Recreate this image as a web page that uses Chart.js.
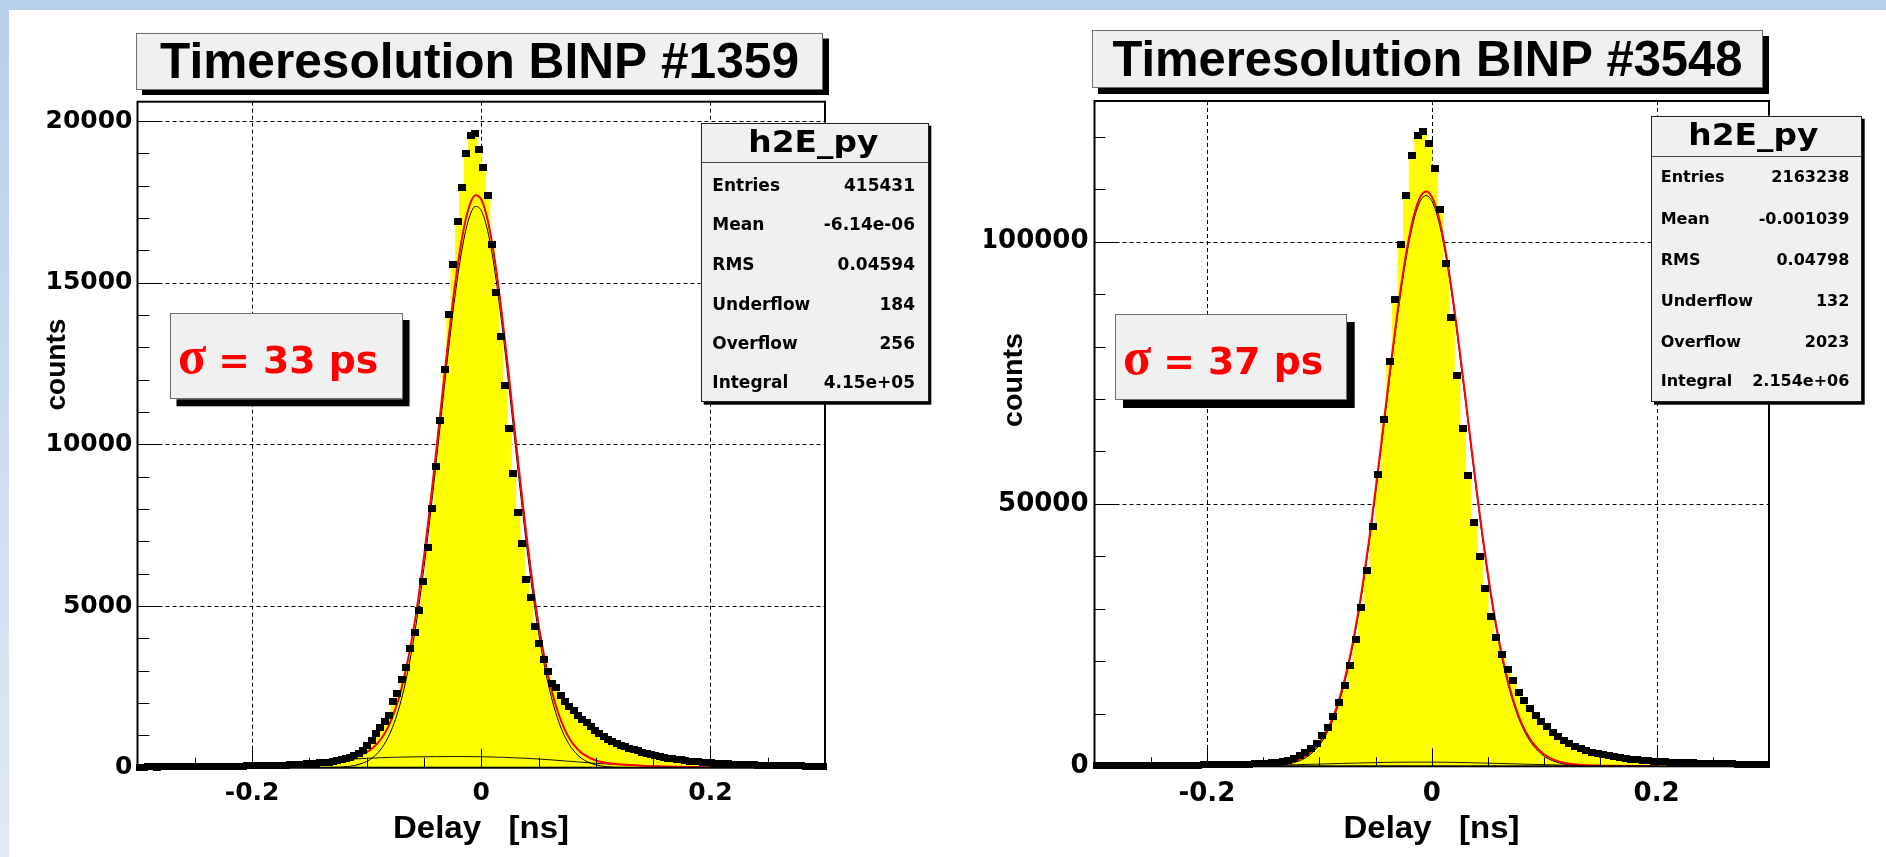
<!DOCTYPE html>
<html>
<head>
<meta charset="utf-8">
<script src="https://cdn.jsdelivr.net/npm/chart.js@4.4.1/dist/chart.umd.min.js"></script>
<style>
html,body{margin:0;padding:0;background:#ffffff;width:1886px;height:857px;overflow:hidden;}
#bandTop{position:absolute;left:0;top:0;width:1886px;height:10px;background:#b8cfea;}
#bandLeft{position:absolute;left:0;top:0;width:9px;height:857px;background:linear-gradient(to bottom,#b8cfea,#e1e9f4);}
canvas{position:absolute;left:0;top:0;}
</style>
</head>
<body>
<div id="bandTop"></div><div id="bandLeft"></div>
<canvas id="c1" width="1886" height="857"></canvas>
<canvas id="c2" width="1886" height="857"></canvas>
<script>
// ================= DATA =================
// Left histogram: BINP #1359, 160 bins over [-0.3, 0.3] ns
const leftRange = [-0.3, 0.3];
const leftBinWidth = 0.00375;
const leftCounts = [
  20,18,22,25,21,24,26,23,28,27,
  30,29,33,31,35,34,38,36,40,42,
  41,45,47,50,49,53,55,58,60,63,
  66,70,73,78,82,88,94,100,108,116,
  125,135,146,158,172,190,215,245,280,320,
  375,445,547,702,856,1051,1258,1422,1608,2053,
  2288,2743,3092,3692,4175,4867,5773,6803,8021,9329,
  10750,12307,14020,15566,16895,17934,18998,19564,19616,19131,
  18553,17687,16184,14700,13349,11834,10504,9103,7897,6927,
  5825,5268,4372,3856,3352,2990,2610,2474,2239,2041,
  1908,1763,1630,1497,1391,1289,1166,1064,959,880,
  820,760,700,650,600,560,520,480,445,410,
  380,350,325,300,280,260,240,222,206,192,
  180,168,158,148,140,132,124,117,111,105,
  100,95,90,86,82,78,75,72,69,66,
  63,61,58,56,54,52,50,48,47,45
];
const leftFitX = [-0.14,-0.13,-0.12,-0.11,-0.10,-0.095,-0.09,-0.085,-0.08,-0.075,-0.07,-0.065,-0.06,-0.055,-0.05,-0.045,-0.04,-0.035,-0.03,-0.025,-0.02,-0.015,-0.01,-0.005,0,0.005,0.01,0.015,0.02,0.025,0.03,0.035,0.04,0.045,0.05,0.055,0.06,0.065,0.07,0.075,0.08,0.085,0.09,0.1,0.11,0.12,0.13,0.14,0.16,0.18,0.2];
const leftFitTotal = [152,207,264,337,483,602,775,1017,1355,1807,2398,3154,4092,5215,6521,7985,9567,11208,12831,14349,15674,16717,17411,17703,17575,17031,16114,14888,13431,11833,10182,8563,7040,5657,4451,3431,2596,1930,1417,1029,744,539,395,224,145,105,80,61,38,22,12];
const leftFitCore = [2,8,24,72,193,305,470,705,1035,1483,2071,2823,3757,4878,6182,7645,9225,10865,12487,14005,15329,16373,17068,17361,17235,16696,15784,14563,13111,11521,9877,8265,6750,5378,4183,3175,2351,1699,1199,825,554,363,232,88,30,10,3,1,0,0,0];
const leftBgX = [-0.14,-0.12,-0.10,-0.08,-0.06,-0.04,-0.02,0,0.02,0.04,0.06,0.08,0.10,0.12,0.14,0.16,0.18,0.20];
const leftBgVals = [150,240,290,320,335,342,345,340,320,290,245,190,136,95,60,38,22,12];
const leftYTicks = [0,5000,10000,15000,20000];
const leftYTickLabels = ['0','5000','10000','15000','20000'];
const leftYMinor = [1000,2000,3000,4000,6000,7000,8000,9000,11000,12000,13000,14000,16000,17000,18000,19000];

// Right histogram: BINP #3548, 120 bins over [-0.3, 0.3] ns
const rightRange = [-0.3, 0.3];
const rightBinWidth = 0.005;
const rightCounts = [
  95,100,105,110,115,120,128,135,142,150,
  158,166,175,185,195,206,218,230,244,258,
  273,290,308,328,350,375,400,430,465,505,
  560,640,750,950,1200,1525,2020,2670,3430,4380,
  5780,7490,9530,12200,15310,19180,24210,30240,37230,45680,
  55530,66100,77128,88887,99371,108770,116470,120280,120970,118620,
  113990,106040,95810,85516,74460,64460,55400,46510,39960,33800,
  28590,24510,21220,18490,16390,14160,12500,11050,9590,8500,
  7550,6480,5640,4950,4350,3850,3400,3020,2700,2420,
  2180,1970,1790,1630,1490,1370,1260,1160,1075,1000,
  930,870,815,765,720,680,642,608,576,547,
  520,495,472,450,430,411,393,377,362,348
];
const rightFitX = [-0.16,-0.15,-0.14,-0.13,-0.12,-0.11,-0.10,-0.095,-0.09,-0.085,-0.08,-0.075,-0.07,-0.065,-0.06,-0.055,-0.05,-0.045,-0.04,-0.035,-0.03,-0.025,-0.02,-0.015,-0.01,-0.005,0,0.005,0.01,0.015,0.02,0.025,0.03,0.035,0.04,0.045,0.05,0.055,0.06,0.065,0.07,0.075,0.08,0.085,0.09,0.1,0.11,0.12,0.13,0.14,0.15,0.16,0.18,0.2];
const rightFitTotal = [155,225,354,624,1180,2308,4453,6101,8255,11024,14491,18740,23847,29835,36694,44330,52619,61365,70283,79064,87340,94775,100984,105662,108580,109568,108574,105650,100960,94750,87316,79029,70240,61320,52574,44280,36639,29780,23790,18681,14431,10963,8194,6041,4396,2251,1131,576,315,188,126,84,48,26];
const rightFitCore = [17,50,140,362,869,1940,4028,5646,7769,10508,13945,18165,23244,29205,36036,43650,51916,60640,69537,78304,86570,93990,100190,104865,107780,108770,107780,104865,100190,93990,86570,78304,69537,60640,51916,43650,36036,29205,23244,18165,13945,10508,7769,5646,4028,1940,869,362,140,50,17,5,1,0];
const rightBgX = [-0.16,-0.14,-0.12,-0.10,-0.08,-0.06,-0.04,-0.02,0,0.02,0.04,0.06,0.08,0.10,0.12,0.14,0.16,0.18,0.20];
const rightBgVals = [138,214,311,425,546,658,746,794,794,746,658,546,425,311,214,138,84,48,26];
const rightYTicks = [0,50000,100000];
const rightYTickLabels = ['0','50000','100000'];
const rightYMinor = [10000,20000,30000,40000,60000,70000,80000,90000,110000,120000];

// shared x ticks
const xTicks = [-0.2,0,0.2];
const xTickLabels = ['-0.2','0','0.2'];
const xMinor = [-0.25,-0.15,-0.1,-0.05,0.05,0.1,0.15,0.25];

// texts
const leftTitle = 'Timeresolution BINP #1359';
const rightTitle = 'Timeresolution BINP #3548';
const statsName = 'h2E_py';
const statLabels = ['Entries','Mean','RMS','Underflow','Overflow','Integral'];
const leftStatValues = ['415431','-6.14e-06','0.04594','184','256','4.15e+05'];
const rightStatValues = ['2163238','-0.001039','0.04798','132','2023','2.154e+06'];
const leftSigma = '33 ps';
const rightSigma = '37 ps';
const yTitle = 'counts';
const xTitle = 'Delay   [ns]';

// ================= DRAWING =================
function markerImg(w,h){const c=document.createElement('canvas');c.width=w;c.height=h;const g=c.getContext('2d');g.fillStyle='#000';g.fillRect(0,0,w,h);return c;}

function txt(ctx, s, x, y, font, opt){
  opt = opt || {};
  ctx.save();
  ctx.font = font;
  ctx.fillStyle = opt.color || '#000';
  ctx.textBaseline = 'alphabetic';
  ctx.textAlign = 'left';
  const w = ctx.measureText(s).width;
  const sx = opt.width ? opt.width / w : 1;
  const ww = w * sx;
  let x0 = x;
  if (opt.align === 'center') x0 = x - ww/2; else if (opt.align === 'right') x0 = x - ww;
  ctx.translate(x0, y);
  ctx.scale(sx, 1);
  ctx.fillText(s, 0, 0);
  ctx.restore();
  return ww;
}

function shadowBox(ctx, x, y, w, h, sh, fill, stroke){
  ctx.save();
  ctx.fillStyle = '#000';
  ctx.fillRect(x+sh, y+sh, w, h);
  ctx.fillStyle = fill;
  ctx.fillRect(x, y, w, h);
  ctx.strokeStyle = stroke; ctx.lineWidth = 1; ctx.setLineDash([]);
  ctx.strokeRect(Math.round(x)+0.5, Math.round(y)+0.5, Math.round(w)-1, Math.round(h)-1);
  ctx.restore();
}

function rootPlugin(P){
  return {
    id: 'rootstyle',
    beforeDatasetsDraw(chart){
      const {ctx, chartArea:a, scales:{x, y}} = chart;
      ctx.save();
      ctx.strokeStyle = '#000'; ctx.lineWidth = 1; ctx.setLineDash([4,3]);
      P.xTicks.forEach(v => { const px = Math.round(x.getPixelForValue(v)) + 0.5; ctx.beginPath(); ctx.moveTo(px, a.top); ctx.lineTo(px, a.bottom); ctx.stroke(); });
      P.yTicks.forEach(v => { if (v <= 0) return; const py = Math.round(y.getPixelForValue(v)) + 0.5; ctx.beginPath(); ctx.moveTo(a.left, py); ctx.lineTo(a.right, py); ctx.stroke(); });
      ctx.restore();
    },
    afterDatasetsDraw(chart){
      const {ctx, chartArea:a, scales:{x, y}} = chart;
      ctx.save();
      ctx.setLineDash([]);
      ctx.strokeStyle = '#000';
      ctx.lineWidth = 1;
      const tx = (v, len) => { const px = Math.round(x.getPixelForValue(v)) + 0.5; ctx.beginPath(); ctx.moveTo(px, a.bottom); ctx.lineTo(px, a.bottom - len); ctx.stroke(); };
      const ty = (v, len) => { const py = Math.round(y.getPixelForValue(v)) + 0.5; ctx.beginPath(); ctx.moveTo(a.left, py); ctx.lineTo(a.left + len, py); ctx.stroke(); };
      P.xTicks.forEach(v => tx(v, P.xMajLen));
      P.xMinor.forEach(v => tx(v, P.xMinLen));
      P.yTicks.forEach(v => ty(v, P.yMajLen));
      P.yMinor.forEach(v => ty(v, P.yMinLen));
      ctx.lineWidth = 2;
      ctx.strokeRect(a.left, a.top, a.right - a.left, a.bottom - a.top);
      ctx.restore();

      const T = P.titleBox;
      shadowBox(ctx, T.x, T.y, T.w, T.h, T.sh, '#f0f0f0', '#6e6e6e');
      txt(ctx, P.title, T.cx, T.base, 'bold 50px "Liberation Sans", Arial, sans-serif', {align:'center', width:T.tw});

      const S = P.stats;
      shadowBox(ctx, S.x, S.y, S.w, S.h, S.sh, '#f0f0f0', '#222');
      ctx.save(); ctx.strokeStyle = '#444'; ctx.lineWidth = 1;
      ctx.beginPath(); ctx.moveTo(S.x, Math.round(S.line)+0.5); ctx.lineTo(S.x + S.w, Math.round(S.line)+0.5); ctx.stroke(); ctx.restore();
      txt(ctx, statsName, S.hcx, S.hbase, 'bold 30px "DejaVu Sans", sans-serif', {align:'center', width:S.hw});
      statLabels.forEach((lab, i) => {
        txt(ctx, lab, S.lx, S.rows[i], S.font);
        txt(ctx, P.statValues[i], S.vx, S.rows[i], S.font, {align:'right'});
      });

      const G = P.sigma;
      shadowBox(ctx, G.x, G.y, G.w, G.h, G.sh, '#f0f0f0', '#6e6e6e');
      const ws = txt(ctx, '\u03c3', G.tx, G.base, 'bold 52px "Liberation Serif", "DejaVu Serif", serif', {color:'#ff0000'});
      txt(ctx, '= ' + P.sigmaText, G.tx + ws + G.gap, G.base, 'bold 38px "DejaVu Sans", sans-serif', {color:'#ff0000', width:G.restW});

      ctx.save();
      ctx.translate(P.yTitle.cx, P.yTitle.cy);
      ctx.rotate(-Math.PI/2);
      txt(ctx, yTitle, 0, 10, 'bold 28px "Liberation Sans", Arial, sans-serif', {align:'center', width:P.yTitle.w});
      ctx.restore();
      txt(ctx, xTitle, P.xTitle.cx, P.xTitle.base, 'bold 31px "Liberation Sans", Arial, sans-serif', {align:'center', width:P.xTitle.w});
    }
  };
}

function buildPanel(canvasId, P){
  const bins = P.counts.map((v, i) => ({x: P.range[0] + P.binWidth * (i + 0.5), y: v}));
  const pairs = (xs, ys) => xs.map((xv, i) => ({x: xv, y: ys[i]}));
  const YW = 110, XH = 60;
  const tickFont = {family: '"DejaVu Sans"', weight: 'bold', size: P.tickFont};
  return new Chart(document.getElementById(canvasId), {
    type: 'line',
    data: { datasets: [
      {data: bins, showLine: false, pointStyle: markerImg(P.mw, P.mh), pointRadius: 3, order: 0, clip: false},
      {data: pairs(P.fitX, P.fitTotal), borderColor: '#ff0000', borderWidth: 2, pointRadius: 0, cubicInterpolationMode: 'monotone', fill: false, order: 1},
      {data: pairs(P.fitX, P.fitCore), borderColor: '#000000', borderWidth: 1, pointRadius: 0, cubicInterpolationMode: 'monotone', fill: false, order: 2},
      {data: pairs(P.bgX, P.bgVals), borderColor: '#1a1a00', borderWidth: 1, pointRadius: 0, cubicInterpolationMode: 'monotone', fill: false, order: 3},
      {data: bins, stepped: 'middle', fill: 'origin', backgroundColor: '#ffff00', borderColor: '#ffff00', borderWidth: 1, pointRadius: 0, order: 4}
    ]},
    options: {
      responsive: false, animation: false, events: [],
      layout: {padding: {left: P.area.l - YW, top: P.area.t, right: 1886 - P.area.r, bottom: 857 - P.area.b - XH}},
      plugins: {legend: {display: false}, tooltip: {enabled: false}},
      scales: {
        x: {type: 'linear', min: P.range[0], max: P.range[1],
            grid: {display: false, drawTicks: false}, border: {display: false},
            afterBuildTicks: s => { s.ticks = P.xTicks.map(v => ({value: v})); },
            afterFit: s => { s.height = XH; },
            ticks: {autoSkip: false, maxRotation: 0, padding: P.xTickPad, color: '#000', font: tickFont,
                    callback: (v, i) => P.xTickLabels[i]}},
        y: {type: 'linear', min: 0, max: P.ymax,
            grid: {display: false, drawTicks: false}, border: {display: false},
            afterBuildTicks: s => { s.ticks = P.yTicks.map(v => ({value: v})); },
            afterFit: s => { s.width = YW; },
            ticks: {autoSkip: false, padding: P.yTickPad, color: '#000', font: tickFont,
                    callback: (v, i) => P.yTickLabels[i]}}
      }
    },
    plugins: [rootPlugin(P)]
  });
}

buildPanel('c1', {
  range: leftRange, binWidth: leftBinWidth, counts: leftCounts,
  fitX: leftFitX, fitTotal: leftFitTotal, fitCore: leftFitCore, bgX: leftBgX, bgVals: leftBgVals,
  ymax: 20600, yTicks: leftYTicks, yTickLabels: leftYTickLabels, yMinor: leftYMinor,
  xTicks: xTicks, xTickLabels: xTickLabels, xMinor: xMinor,
  area: {l: 137.5, r: 825, t: 101.7, b: 767.7},
  mw: 8, mh: 7, tickFont: 25, xTickPad: 11, yTickPad: 5,
  xMajLen: 19, xMinLen: 10, yMajLen: 24, yMinLen: 12,
  title: leftTitle,
  titleBox: {x: 136, y: 32.5, w: 687, h: 56.5, sh: 6, cx: 479.5, base: 78, tw: 639},
  stats: {x: 700.7, y: 122.7, w: 227.6, h: 279, sh: 3, line: 162.3, hcx: 813.3, hbase: 151.7, hw: 130,
          rows: [191, 230.3, 270.3, 310, 349.3, 388.3], lx: 712.3, vx: 915, font: 'bold 17px "DejaVu Sans", sans-serif'},
  statValues: leftStatValues,
  sigma: {x: 169.5, y: 313, w: 233, h: 86.3, sh: 7, tx: 178, base: 373, gap: 12, restW: 160},
  sigmaText: leftSigma,
  yTitle: {cx: 55, cy: 364.6, w: 92},
  xTitle: {cx: 481, base: 838, w: 176}
});

buildPanel('c2', {
  range: rightRange, binWidth: rightBinWidth, counts: rightCounts,
  fitX: rightFitX, fitTotal: rightFitTotal, fitCore: rightFitCore, bgX: rightBgX, bgVals: rightBgVals,
  ymax: 126800, yTicks: rightYTicks, yTickLabels: rightYTickLabels, yMinor: rightYMinor,
  xTicks: xTicks, xTickLabels: xTickLabels, xMinor: xMinor,
  area: {l: 1094.5, r: 1769, t: 101, b: 766.3},
  mw: 8, mh: 7, tickFont: 26, xTickPad: 12.5, yTickPad: 6,
  xMajLen: 18, xMinLen: 9, yMajLen: 23, yMinLen: 11,
  title: rightTitle,
  titleBox: {x: 1092, y: 30, w: 671, h: 58, sh: 6, cx: 1427.5, base: 76, tw: 630},
  stats: {x: 1651, y: 115.7, w: 210.7, h: 286, sh: 3, line: 156, hcx: 1753.3, hbase: 145, hw: 130,
          rows: [182.3, 224, 265, 305.7, 346.7, 386], lx: 1660.7, vx: 1849.3, font: 'bold 16px "DejaVu Sans", sans-serif'},
  statValues: rightStatValues,
  sigma: {x: 1115, y: 314, w: 231.7, h: 86, sh: 8, tx: 1123, base: 374, gap: 12, restW: 160},
  sigmaText: rightSigma,
  yTitle: {cx: 1012, cy: 380, w: 94},
  xTitle: {cx: 1431.5, base: 838, w: 176}
});
</script>
</body>
</html>
